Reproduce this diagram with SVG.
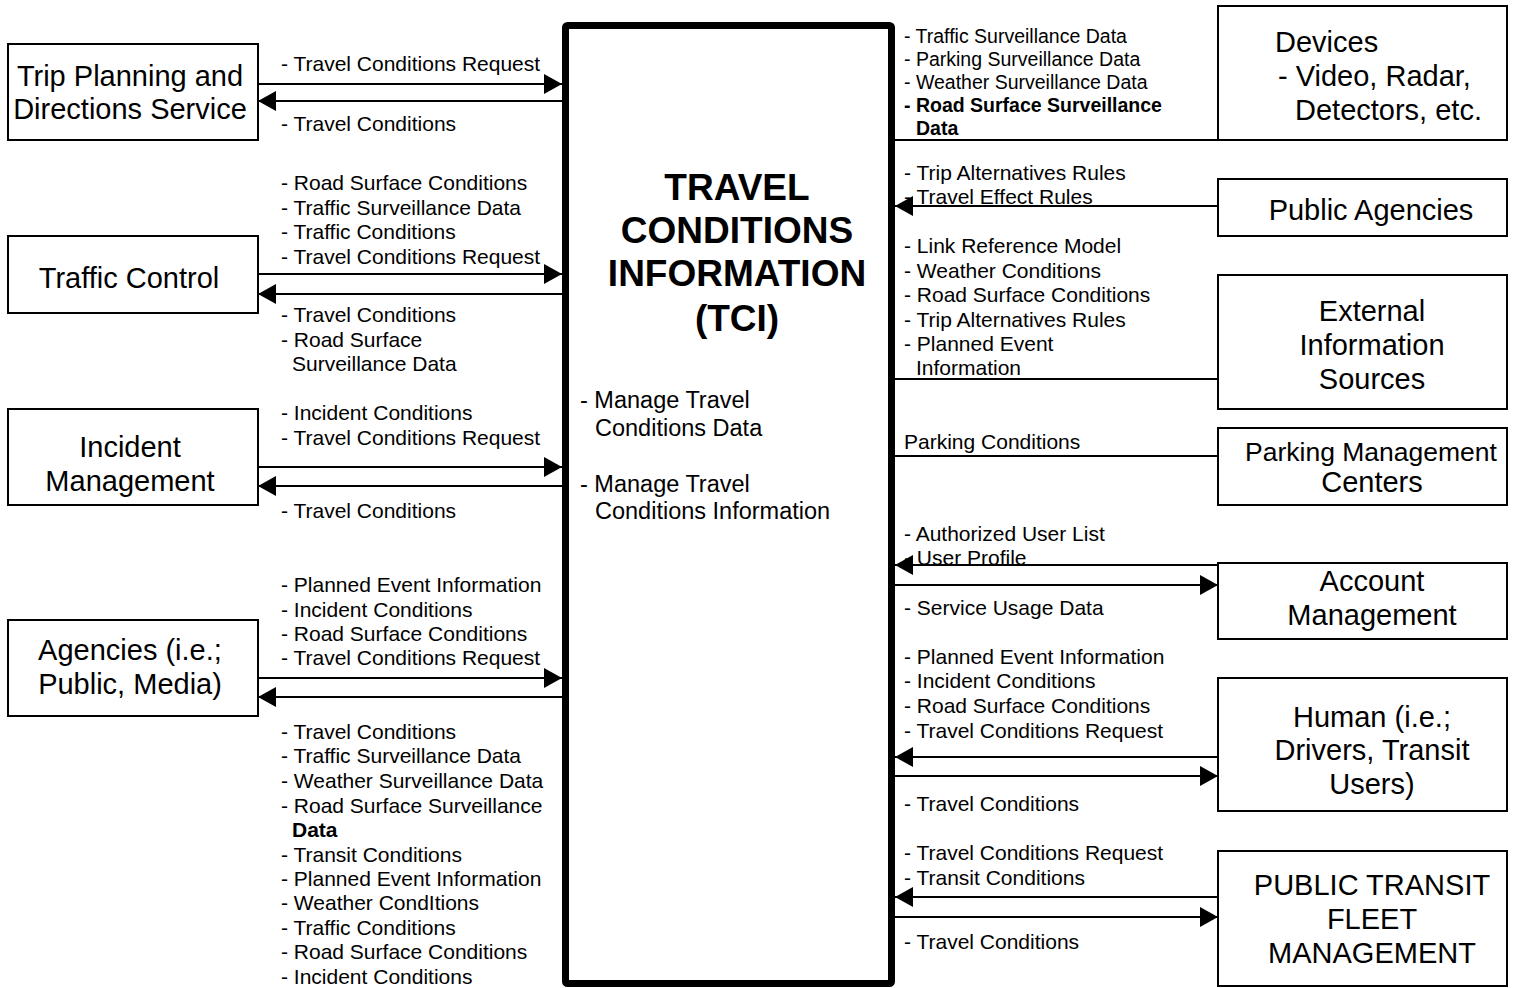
<svg xmlns="http://www.w3.org/2000/svg" width="1515" height="988" viewBox="0 0 1515 988">
<style>
text{font-family:"Liberation Sans",Arial,sans-serif;fill:#000}
.box{fill:#fff;stroke:#000;stroke-width:2}
.core{fill:#fff;stroke:#000;stroke-width:7}
.nt{font-size:29px}
.c{text-anchor:middle}
.lb{font-size:21px}
.dv{font-size:19.5px}
.b{font-weight:bold}
.ttl{font-size:37px;font-weight:bold;text-anchor:middle}
.body{font-size:23.5px}
.conn line{stroke:#000;stroke-width:2}
.arr{marker-end:url(#ah)}
</style>
<defs>
<marker id="ah" markerUnits="userSpaceOnUse" markerWidth="18" markerHeight="20" refX="18" refY="10" orient="auto">
<path d="M0,0 L18,10 L0,20 z" fill="#000"/>
</marker>
</defs>
<rect width="1515" height="988" fill="#fff"/>

<g id="tci">
<rect class="core" x="565.5" y="25.5" width="326" height="958" rx="2"/>
<text class="ttl" x="737" y="200">TRAVEL</text>
<text class="ttl" x="737" y="243">CONDITIONS</text>
<text class="ttl" x="737" y="286">INFORMATION</text>
<text class="ttl" x="737" y="331">(TCI)</text>
<text class="body" x="580" y="408">- Manage Travel</text>
<text class="body" x="595" y="436">Conditions Data</text>
<text class="body" x="580" y="492">- Manage Travel</text>
<text class="body" x="595" y="519">Conditions Information</text>
</g>

<g id="trip-planning">
<rect class="box" x="8" y="44" width="250" height="96"/>
<text class="nt c" x="130" y="86">Trip Planning and</text>
<text class="nt c" x="130" y="119">Directions Service</text>
</g>
<g id="traffic-control">
<rect class="box" x="8" y="236" width="250" height="77"/>
<text class="nt c" x="129" y="288">Traffic Control</text>
</g>
<g id="incident-management">
<rect class="box" x="8" y="409" width="250" height="96"/>
<text class="nt c" x="130" y="457">Incident</text>
<text class="nt c" x="130" y="491">Management</text>
</g>
<g id="agencies">
<rect class="box" x="8" y="620" width="250" height="96"/>
<text class="nt c" x="130" y="660">Agencies (i.e.;</text>
<text class="nt c" x="130" y="694">Public, Media)</text>
</g>

<g id="devices">
<rect class="box" x="1218" y="6" width="289" height="134"/>
<text class="nt" x="1275" y="52">Devices</text>
<text class="nt" x="1278" y="86">- Video, Radar,</text>
<text class="nt" x="1295" y="120">Detectors, etc.</text>
</g>
<g id="public-agencies">
<rect class="box" x="1218" y="179" width="289" height="57"/>
<text class="nt c" x="1371" y="220">Public Agencies</text>
</g>
<g id="external-info">
<rect class="box" x="1218" y="275" width="289" height="134"/>
<text class="nt c" x="1372" y="321">External</text>
<text class="nt c" x="1372" y="355">Information</text>
<text class="nt c" x="1372" y="389">Sources</text>
</g>
<g id="parking-management">
<rect class="box" x="1218" y="428" width="289" height="77"/>
<text class="c" x="1371" y="461" font-size="26.5">Parking Management</text>
<text class="nt c" x="1372" y="492">Centers</text>
</g>
<g id="account-management">
<rect class="box" x="1218" y="563" width="289" height="76"/>
<text class="nt c" x="1372" y="591">Account</text>
<text class="nt c" x="1372" y="625">Management</text>
</g>
<g id="human">
<rect class="box" x="1218" y="678" width="289" height="133"/>
<text class="nt c" x="1372" y="727">Human (i.e.;</text>
<text class="nt c" x="1372" y="760">Drivers, Transit</text>
<text class="nt c" x="1372" y="794">Users)</text>
</g>
<g id="public-transit">
<rect class="box" x="1218" y="851" width="289" height="135"/>
<text class="nt c" x="1372" y="895">PUBLIC TRANSIT</text>
<text class="nt c" x="1372" y="929">FLEET</text>
<text class="nt c" x="1372" y="963">MANAGEMENT</text>
</g>

<g id="connectors" class="conn">
<line class="arr" x1="258" y1="84" x2="562" y2="84"/>
<line class="arr" x1="562" y1="101" x2="258" y2="101"/>
<line class="arr" x1="258" y1="274" x2="562" y2="274"/>
<line class="arr" x1="562" y1="294" x2="258" y2="294"/>
<line class="arr" x1="258" y1="467" x2="562" y2="467"/>
<line class="arr" x1="562" y1="486" x2="258" y2="486"/>
<line class="arr" x1="258" y1="678" x2="562" y2="678"/>
<line class="arr" x1="562" y1="697" x2="258" y2="697"/>
<line x1="895" y1="140" x2="1218" y2="140"/>
<line class="arr" x1="1218" y1="206" x2="895" y2="206"/>
<line x1="895" y1="379" x2="1218" y2="379"/>
<line x1="895" y1="456" x2="1218" y2="456"/>
<line class="arr" x1="1218" y1="565" x2="895" y2="565"/>
<line class="arr" x1="895" y1="585" x2="1218" y2="585"/>
<line class="arr" x1="1218" y1="757" x2="895" y2="757"/>
<line class="arr" x1="895" y1="776" x2="1218" y2="776"/>
<line class="arr" x1="1218" y1="897" x2="895" y2="897"/>
<line class="arr" x1="895" y1="917" x2="1218" y2="917"/>
</g>

<g id="labels-left" class="lb">
<text class="lb" x="281" y="71">- Travel Conditions Request</text>
<text class="lb" x="281" y="131">- Travel Conditions</text>
<text class="lb" x="281" y="190">- Road Surface Conditions</text>
<text class="lb" x="281" y="215">- Traffic Surveillance Data</text>
<text class="lb" x="281" y="239">- Traffic Conditions</text>
<text class="lb" x="281" y="264">- Travel Conditions Request</text>
<text class="lb" x="281" y="322">- Travel Conditions</text>
<text class="lb" x="281" y="347">- Road Surface</text>
<text class="lb" x="292" y="371">Surveillance Data</text>
<text class="lb" x="281" y="420">- Incident Conditions</text>
<text class="lb" x="281" y="445">- Travel Conditions Request</text>
<text class="lb" x="281" y="518">- Travel Conditions</text>
<text class="lb" x="281" y="592">- Planned Event Information</text>
<text class="lb" x="281" y="617">- Incident Conditions</text>
<text class="lb" x="281" y="641">- Road Surface Conditions</text>
<text class="lb" x="281" y="665">- Travel Conditions Request</text>
<text class="lb" x="281" y="739">- Travel Conditions</text>
<text class="lb" x="281" y="763">- Traffic Surveillance Data</text>
<text class="lb" x="281" y="788">- Weather Surveillance Data</text>
<text class="lb" x="281" y="813">- Road Surface Surveillance</text>
<text class="lb b" x="292" y="837">Data</text>
<text class="lb" x="281" y="862">- Transit Conditions</text>
<text class="lb" x="281" y="886">- Planned Event Information</text>
<text class="lb" x="281" y="910">- Weather CondItions</text>
<text class="lb" x="281" y="935">- Traffic Conditions</text>
<text class="lb" x="281" y="959">- Road Surface Conditions</text>
<text class="lb" x="281" y="984">- Incident Conditions</text>
</g>

<g id="labels-right">
<text class="dv" x="904" y="43">- Traffic Surveillance Data</text>
<text class="dv" x="904" y="66">- Parking Surveillance Data</text>
<text class="dv" x="904" y="89">- Weather Surveillance Data</text>
<text class="dv b" x="904" y="112">- Road Surface Surveillance</text>
<text class="dv b" x="916" y="135">Data</text>
<text class="lb" x="904" y="180">- Trip Alternatives Rules</text>
<text class="lb" x="904" y="204">- Travel Effect Rules</text>
<text class="lb" x="904" y="253">- Link Reference Model</text>
<text class="lb" x="904" y="278">- Weather Conditions</text>
<text class="lb" x="904" y="302">- Road Surface Conditions</text>
<text class="lb" x="904" y="327">- Trip Alternatives Rules</text>
<text class="lb" x="904" y="351">- Planned Event</text>
<text class="lb" x="916" y="375">Information</text>
<text class="lb" x="904" y="449">Parking Conditions</text>
<text class="lb" x="904" y="541">- Authorized User List</text>
<text class="lb" x="904" y="565">- User Profile</text>
<text class="lb" x="904" y="615">- Service Usage Data</text>
<text class="lb" x="904" y="664">- Planned Event Information</text>
<text class="lb" x="904" y="688">- Incident Conditions</text>
<text class="lb" x="904" y="713">- Road Surface Conditions</text>
<text class="lb" x="904" y="738">- Travel Conditions Request</text>
<text class="lb" x="904" y="811">- Travel Conditions</text>
<text class="lb" x="904" y="860">- Travel Conditions Request</text>
<text class="lb" x="904" y="885">- Transit Conditions</text>
<text class="lb" x="904" y="949">- Travel Conditions</text>
</g>
</svg>
